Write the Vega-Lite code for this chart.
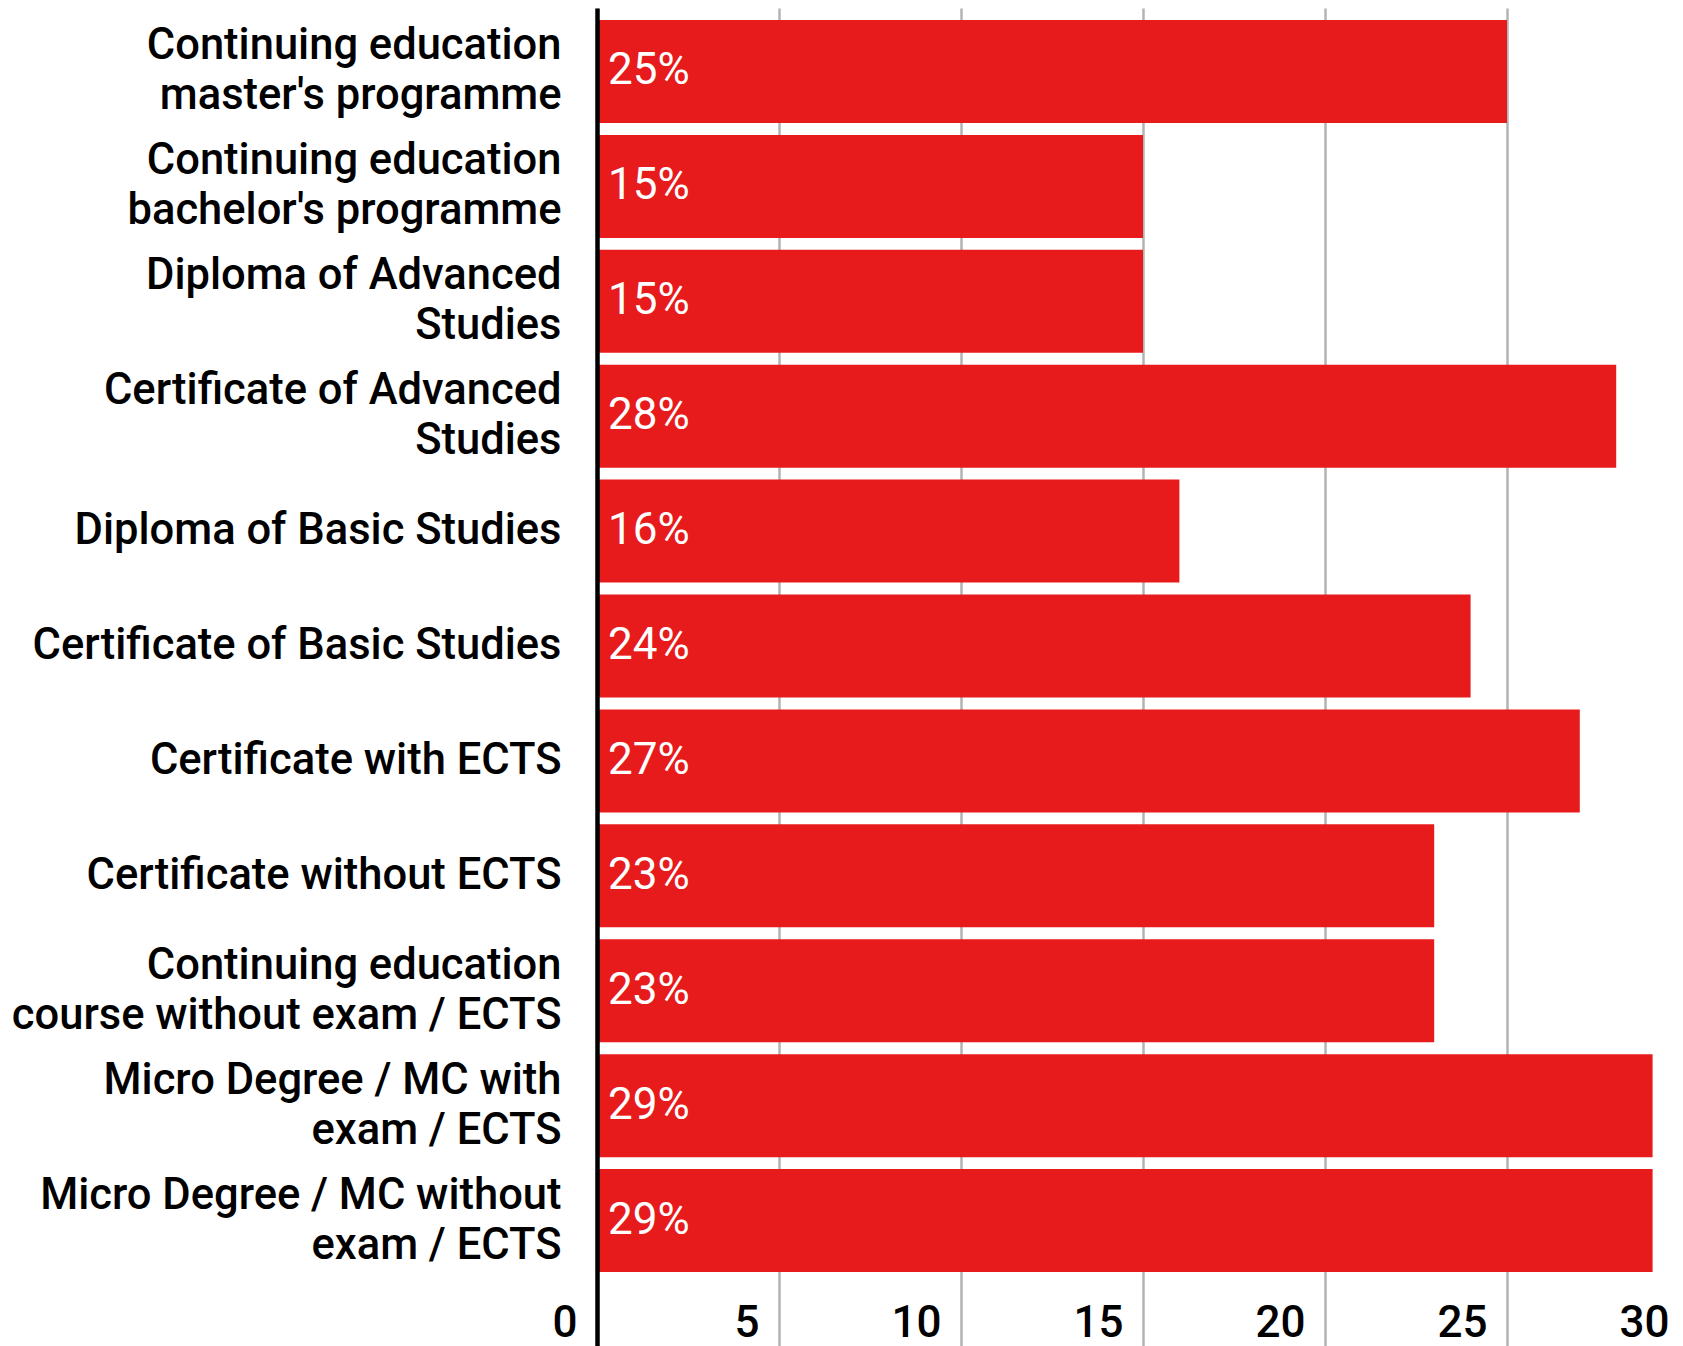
{
  "$schema": "https://vega.github.io/schema/vega-lite/v6.json",
  "autosize": "none",
  "width": 1086,
  "height": 1338,
  "padding": {"top": 8, "left": 597, "right": 0, "bottom": 0},
  "background": "white",
  "config": {"view": {"stroke": null}, "font": "Roboto"},
  "data": {
    "values": [
      {"category": "Continuing education\nmaster's programme", "value": 25},
      {"category": "Continuing education\nbachelor's programme", "value": 15},
      {"category": "Diploma of Advanced\nStudies", "value": 15},
      {"category": "Certificate of Advanced\nStudies", "value": 28},
      {"category": "Diploma of Basic Studies", "value": 16},
      {"category": "Certificate of Basic Studies", "value": 24},
      {"category": "Certificate with ECTS", "value": 27},
      {"category": "Certificate without ECTS", "value": 23},
      {"category": "Continuing education\ncourse without exam / ECTS", "value": 23},
      {"category": "Micro Degree / MC with\nexam / ECTS", "value": 29},
      {"category": "Micro Degree / MC without\nexam / ECTS", "value": 29}
    ]
  },
  "encoding": {
    "y": {
      "field": "category",
      "type": "nominal",
      "sort": null,
      "scale": {"paddingInner": 0.1036, "paddingOuter": 0.374, "align": 0.1395},
      "axis": {
        "title": null,
        "ticks": false,
        "grid": false,
        "domain": true,
        "domainColor": "#000000",
        "domainWidth": 4.5,
        "zindex": 2,
        "labelFont": "Roboto",
        "labelFontSize": 43.5,
        "labelFontWeight": 500,
        "labelColor": "#000000",
        "labelPadding": 36,
        "labelLimit": 0,
        "labelLineHeight": 50,
        "labelBaseline": "middle",
        "labelOffset": {"condition": {"test": "indexof(datum.value, '\\n') >= 0", "value": -25}, "value": 0},
        "labelExpr": "split(datum.label, '\\n')"
      }
    }
  },
  "layer": [
    {
      "mark": {"type": "bar", "color": "#e71b1c"},
      "encoding": {
        "x": {
          "field": "value",
          "type": "quantitative",
          "scale": {"domain": [0, 30], "nice": false, "zero": true, "rangeMax": 1092},
          "axis": {
            "title": null,
            "values": [0, 5, 10, 15, 20, 25, 30],
            "grid": true,
            "gridColor": "#b3b3b3",
            "gridWidth": 2.5,
            "domain": false,
            "ticks": false,
            "labelFont": "Roboto",
            "labelFontSize": 44,
            "labelFontWeight": 500,
            "labelColor": "#000000",
            "labelAlign": "right",
            "labelBaseline": "alphabetic",
            "labelPadding": -10,
            "labelOffset": -20,
            "labelFlush": false,
            "labelOverlap": false,
            "labelBound": false
          }
        }
      }
    },
    {
      "mark": {
        "type": "text",
        "align": "left",
        "baseline": "middle",
        "dx": 11,
        "color": "#ffffff",
        "font": "Roboto",
        "fontSize": 44,
        "fontWeight": 400,
        "text": {"expr": "datum.value + '%'"}
      },
      "encoding": {
        "x": {"datum": 0, "type": "quantitative"}
      }
    }
  ]
}
